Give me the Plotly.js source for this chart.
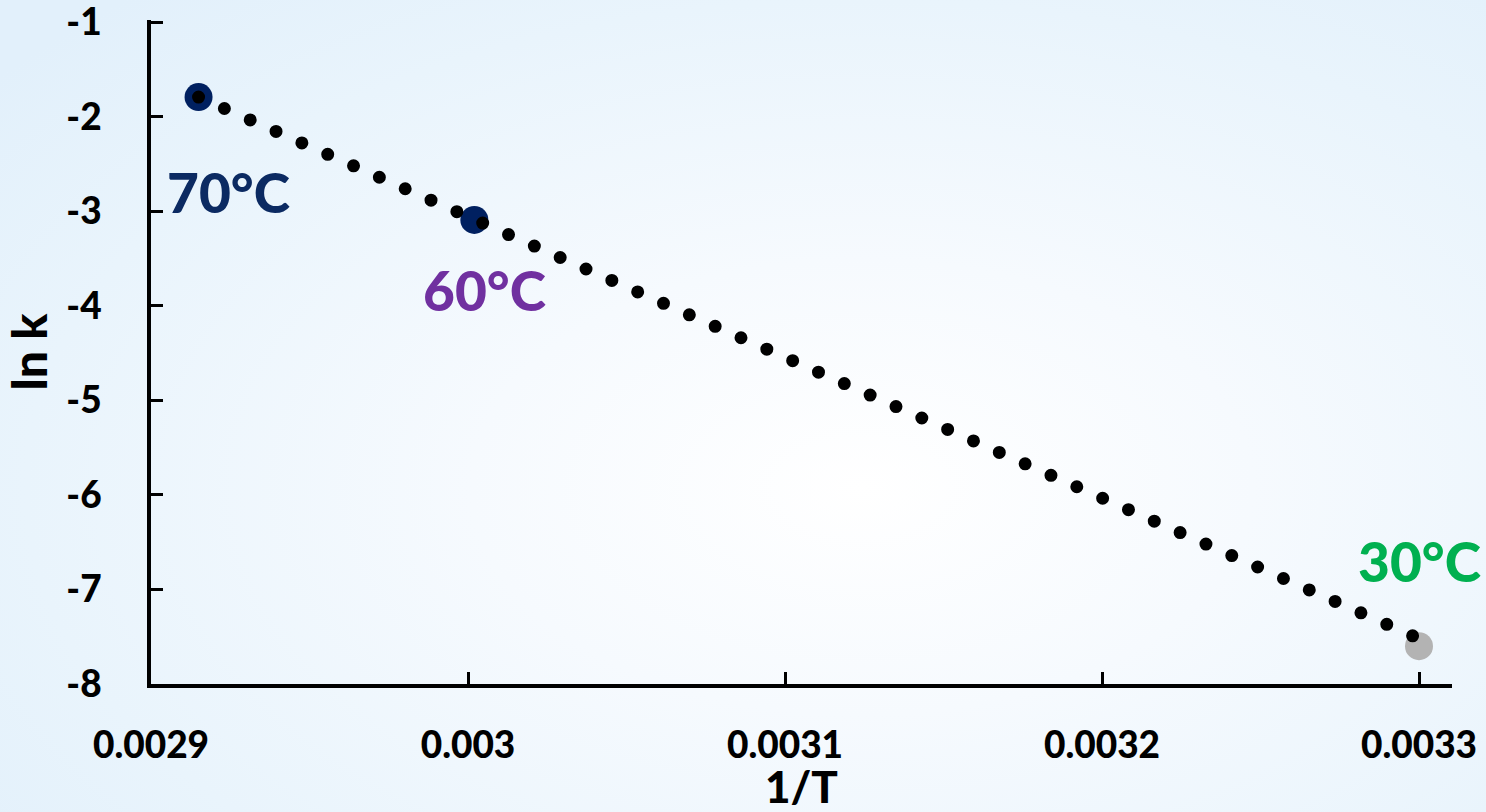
<!DOCTYPE html>
<html>
<head>
<meta charset="utf-8">
<script src="https://cdn.plot.ly/plotly-3.0.1.min.js"></script>
<style>
  html, body { margin: 0; padding: 0; width: 1486px; height: 812px; overflow: hidden; }
  body { background: radial-gradient(ellipse 75% 80% at 58% 60%, #ffffff 0%, #f6fafe 35%, #e9f4fc 75%, #e2f0fb 100%); }
  #chart { width: 1486px; height: 812px; }
  .scatterlayer .js-line { stroke-linecap: round !important; }
</style>
</head>
<body>
<div id="chart"></div>
<script>
// ---- data ----
const labels   = ['70°C', '60°C', '30°C'];
const invT     = [0.002915, 0.003002, 0.003300];
const lnK      = [-1.79, -3.09, -7.60];
const pointColors = ['#002060', '#002060', '#b3b3b3'];
const labelColors = ['#0b2a62', '#7030a0', '#00b050'];
// trend line end points (dotted)
const trendX = [0.002915, 0.003300];
const trendY = [-1.79, -7.52];
const xTicks = [0.0029, 0.003, 0.0031, 0.0032, 0.0033];
const xTickText = ['0.0029', '0.003', '0.0031', '0.0032', '0.0033'];
const yTicks = [-1, -2, -3, -4, -5, -6, -7, -8];
const yTickText = ['-1', '-2', '-3', '-4', '-5', '-6', '-7', '-8'];

const labelShift = [[30, -95], [10, -70], [0, 85]];

const FONT = 'Lato, Carlito, "Noto Sans", sans-serif';

const traces = [
  {
    x: invT, y: lnK, type: 'scatter', mode: 'markers',
    marker: { size: 28, color: pointColors, line: { width: 0 } },
    hoverinfo: 'skip', showlegend: false
  },
  {
    x: trendX, y: trendY, type: 'scatter', mode: 'lines',
    line: { color: '#000000', width: 13, dash: '0px,28.26px' },
    hoverinfo: 'skip', showlegend: false
  }
];

const annotations = labels.map((t, i) => ({
  x: invT[i], y: lnK[i], xref: 'x', yref: 'y',
  text: t, showarrow: false,
  xshift: labelShift[i][0], yshift: labelShift[i][1],
  font: { family: FONT, size: 55, color: labelColors[i], weight: 900 },
  xanchor: 'center', yanchor: 'middle'
}));

const layout = {
  width: 1486, height: 812,
  paper_bgcolor: 'rgba(0,0,0,0)', plot_bgcolor: 'rgba(0,0,0,0)',
  margin: { l: 151, r: 34, t: 20, b: 128 },
  showlegend: false,
  font: { family: FONT, color: '#000000' },
  xaxis: {
    range: [0.0029, 0.00331041],
    tickvals: xTicks, ticktext: xTickText,
    ticks: 'inside', ticklen: 12, tickwidth: 3, tickcolor: '#000',
    showline: true, linecolor: '#000', linewidth: 4,
    showgrid: false, zeroline: false,
    tickfont: { family: FONT, size: 37, color: '#000', weight: 900 },
    ticklabelstandoff: 26, ticklabeloverflow: 'allow',
    title: { text: '1/T', font: { family: FONT, size: 44, color: '#000', weight: 900 }, standoff: 22 }
  },
  yaxis: {
    range: [-8, -0.975],
    tickvals: yTicks, ticktext: yTickText,
    ticks: 'inside', ticklen: 12, tickwidth: 3, tickcolor: '#000',
    showline: true, linecolor: '#000', linewidth: 4,
    showgrid: false, zeroline: false,
    tickfont: { family: FONT, size: 37, color: '#000', weight: 900 },
    ticklabelstandoff: 38, ticklabeloverflow: 'allow',
    title: { text: 'ln k', font: { family: FONT, size: 48, color: '#000', weight: 900 }, standoff: 14 }
  },
  annotations: annotations
};

Plotly.newPlot('chart', traces, layout, { staticPlot: true, displayModeBar: false });
</script>
</body>
</html>
